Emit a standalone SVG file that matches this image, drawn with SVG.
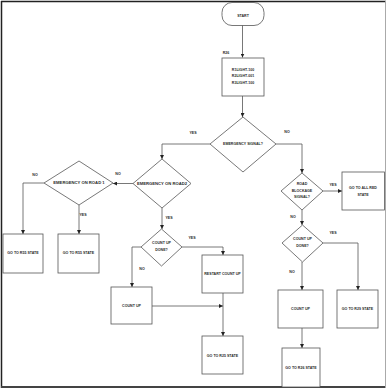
<svg xmlns="http://www.w3.org/2000/svg" width="387" height="389" viewBox="0 0 387 389">
<defs>
<marker id="arr" markerWidth="4" markerHeight="4" refX="4" refY="2" orient="auto" markerUnits="userSpaceOnUse">
<path d="M0,0 L4,2 L0,4 Z" fill="#222"/>
</marker>
<style>
.s{fill:#fff;stroke:#555;stroke-width:0.8}
.c{fill:none;stroke:#555;stroke-width:0.8;marker-end:url(#arr)}
text{font-family:"Liberation Sans",Arial,sans-serif;font-size:3.6px;font-weight:bold;fill:#2a2a2a;text-anchor:middle;dominant-baseline:middle}
.big{font-size:4.2px}
</style>
</defs>
<rect x="0" y="0" width="387" height="389" fill="#fff"/>
<g id="frame">
<line x1="1.5" y1="1" x2="1.5" y2="388" stroke="#222" stroke-width="1.5"/>
<line x1="1" y1="1.5" x2="386" y2="1.5" stroke="#222" stroke-width="1.5"/>
<line x1="1" y1="387" x2="386" y2="387" stroke="#444" stroke-width="1.8"/>
<line x1="385.5" y1="1" x2="385.5" y2="388" stroke="#aaa" stroke-width="1"/>
</g>
<g id="connectors">
<path class="c" d="M242.5,25 V57.5"/>
<path class="c" d="M242.5,96 V117"/>
<path class="c" d="M210,144 H162 V159"/>
<path class="c" d="M276,144 H302 V173"/>
<path class="c" d="M323,191 H342"/>
<path class="c" d="M302,210 V225"/>
<path class="c" d="M323,243 H358 V290"/>
<path class="c" d="M302,262 V290"/>
<path class="c" d="M302,328 V348"/>
<path class="c" d="M133,183.5 H113"/>
<path class="c" d="M44,183 H23 V234"/>
<path class="c" d="M79,205 V234"/>
<path class="c" d="M162,208 V229"/>
<path class="c" d="M182,247 H223 V255"/>
<path class="c" d="M141,247 H132 V287"/>
<path class="c" d="M152,306 H223"/>
<path class="c" d="M223,293 V336"/>
<text x="226" y="53">R26</text>
<text x="193" y="133">YES</text>
<text x="287" y="132">NO</text>
<text x="333" y="185">YES</text>
<text x="293" y="217">NO</text>
<text x="333" y="233">YES</text>
<text x="292" y="272">NO</text>
<text x="118" y="174">NO</text>
<text x="35" y="175">NO</text>
<text x="83" y="215">YES</text>
<text x="169" y="218">YES</text>
<text x="192" y="238">YES</text>
<text x="142" y="269">NO</text>
</g>
<g id="start">
<rect class="s" x="222" y="2.5" width="42" height="23" rx="10" ry="10"/>
<text x="243" y="16">START</text>
</g>
<g id="r26">
<rect class="s" x="222" y="58" width="42" height="38"/>
<text x="243" y="70">R1LIGHT-100</text>
<text x="243" y="76.5">R2LIGHT-001</text>
<text x="243" y="83">R3LIGHT-100</text>
</g>
<g id="emergency-signal">
<polygon class="s" points="243,117 276,144 243,172 210,144"/>
<text x="243" y="144">EMERGENCY SIGNAL?</text>
</g>
<g id="road-blockage">
<polygon class="s" points="302,173 323,191 302,210 281,191"/>
<text x="302" y="184.5">ROAD</text>
<text x="302" y="191">BLOCKAGE</text>
<text x="302" y="197.5">SIGNAL?</text>
</g>
<g id="all-red">
<rect class="s" x="342" y="172" width="42.5" height="38"/>
<text x="363" y="188">GO TO ALL RED</text>
<text x="363" y="195">STATE</text>
</g>
<g id="count-up-done-2">
<polygon class="s" points="302.5,225 323,243 302.5,262 282,243"/>
<text x="302.5" y="239.5">COUNT UP</text>
<text x="302.5" y="246.5">DONE?</text>
</g>
<g id="go-r29">
<rect class="s" x="337" y="290" width="41" height="38"/>
<text x="357.5" y="309">GO TO  R29 STATE</text>
</g>
<g id="count-up-2">
<rect class="s" x="278" y="290" width="45" height="38"/>
<text x="300.5" y="309">COUNT UP</text>
</g>
<g id="go-r26">
<rect class="s" x="282" y="348" width="38" height="39"/>
<text x="301" y="368">GO TO R26 STATE</text>
</g>
<g id="emergency-road2">
<polygon class="s" points="162,159 191,183.5 162,208 133,183.5"/>
<text class="big" x="162" y="183.5">EMERGENCY ON ROAD2</text>
</g>
<g id="emergency-road1">
<polygon class="s" points="79,161 113,183 79,205 44,183"/>
<text class="big" x="79" y="183">EMERGENCY ON ROAD 1</text>
</g>
<g id="go-r55-a">
<rect class="s" x="3" y="234" width="40" height="39"/>
<text x="23" y="253">GO TO R55 STATE</text>
</g>
<g id="go-r55-b">
<rect class="s" x="58" y="234" width="41" height="39"/>
<text x="78.5" y="253">GO TO R55 STATE</text>
</g>
<g id="count-up-done-1">
<polygon class="s" points="161.5,229 182,247 161.5,266 141,247"/>
<text x="161.5" y="243.5">COUNT UP</text>
<text x="161.5" y="250">DONE?</text>
</g>
<g id="restart">
<rect class="s" x="202" y="255" width="41" height="38"/>
<text x="222.5" y="274">RESTART COUNT UP</text>
</g>
<g id="count-up-1">
<rect class="s" x="111" y="287" width="41" height="37"/>
<text x="131.5" y="306">COUNT UP</text>
</g>
<g id="go-r25">
<rect class="s" x="202" y="336" width="41" height="38"/>
<text x="222.5" y="356">GO TO R25 STATE</text>
</g>
</svg>
